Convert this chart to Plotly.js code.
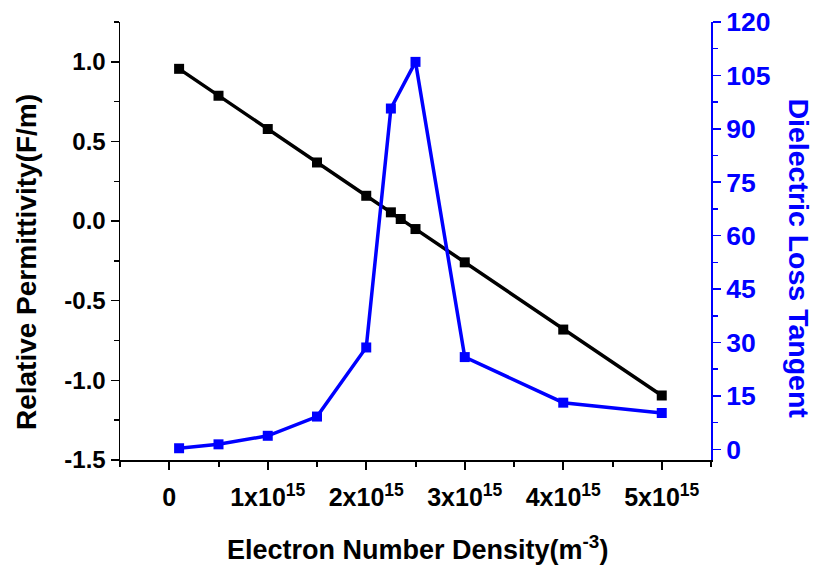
<!DOCTYPE html>
<html>
<head>
<meta charset="utf-8">
<script src="https://cdn.plot.ly/plotly-3.0.1.min.js"></script>
<style>html,body{margin:0;padding:0;background:#fff;}#chart{width:816px;height:567px;}</style>
</head>
<body>
<div id="chart"></div>
<script>
// Data
const densityPerm = [1e14, 5e14, 1e15, 1.5e15, 2e15, 2.25e15, 2.35e15, 2.5e15, 3e15, 4e15, 5e15];
const permittivity = [0.956, 0.787, 0.578, 0.368, 0.159, 0.055, 0.013, -0.05, -0.259, -0.681, -1.095];
const densityLoss = [1e14, 5e14, 1e15, 1.5e15, 2e15, 2.25e15, 2.5e15, 3e15, 4e15, 5e15];
const lossTangent = [0.3, 1.4, 3.8, 9.2, 28.6, 95.7, 108.8, 25.9, 13.1, 10.2];

const xTickVals = [0, 1e15, 2e15, 3e15, 4e15, 5e15];
const xTickText = ['0', '1x10<sup>15</sup>', '2x10<sup>15</sup>', '3x10<sup>15</sup>', '4x10<sup>15</sup>', '5x10<sup>15</sup>'];
const yTickVals = [-1.5, -1.0, -0.5, 0.0, 0.5, 1.0];
const yTickText = ['-1.5', '-1.0', '-0.5', '0.0', '0.5', '1.0'];
const y2TickVals = [0, 15, 30, 45, 60, 75, 90, 105, 120];

const FONT = 'Liberation Sans, Arial, Helvetica, sans-serif';
const BLUE = '#0000FF';

const traces = [
  {
    x: densityPerm, y: permittivity, type: 'scatter', mode: 'lines+markers',
    line: {color: '#000000', width: 3.5},
    marker: {symbol: 'square', size: 10, color: '#000000'},
    xaxis: 'x', yaxis: 'y', showlegend: false
  },
  {
    x: densityLoss, y: lossTangent, type: 'scatter', mode: 'lines+markers',
    line: {color: BLUE, width: 3.5},
    marker: {symbol: 'square', size: 10, color: BLUE},
    xaxis: 'x', yaxis: 'y2', showlegend: false
  }
];

const layout = {
  width: 816, height: 567,
  margin: {l: 120, r: 105, t: 22, b: 107},
  paper_bgcolor: '#fff', plot_bgcolor: '#fff',
  showlegend: false,
  xaxis: {
    range: [-0.5e15, 5.5e15],
    tickmode: 'array', tickvals: xTickVals, ticktext: xTickText,
    ticks: 'outside', ticklen: 8, tickwidth: 2, tickcolor: '#000',
    minor: {tickmode: 'linear', tick0: 0, dtick: 5e14, ticks: 'outside', ticklen: 5, tickwidth: 2, tickcolor: '#000'},
    showline: true, linecolor: '#000', linewidth: 2,
    showgrid: false, zeroline: false,
    tickfont: {family: FONT, size: 25, color: '#000', weight: 'bold'}, ticklabelstandoff: 6
  },
  xaxis2: {
    overlaying: 'x', side: 'top', range: [-0.5e15, 5.5e15],
    tickmode: 'linear', tick0: 0, dtick: 1e15,
    ticks: 'inside', ticklen: 8, tickwidth: 2, tickcolor: '#000',
    minor: {tickmode: 'linear', tick0: 0, dtick: 5e14, ticks: 'inside', ticklen: 4, tickwidth: 2, tickcolor: '#000'},
    showticklabels: false, showline: true, linecolor: '#000', linewidth: 2,
    showgrid: false, zeroline: false
  },
  yaxis: {
    range: [-1.5, 1.25],
    tickmode: 'array', tickvals: yTickVals, ticktext: yTickText,
    ticks: 'outside', ticklen: 8, tickwidth: 1.5, tickcolor: '#000',
    minor: {tickmode: 'linear', tick0: 0, dtick: 0.25, ticks: 'outside', ticklen: 5, tickwidth: 1.5, tickcolor: '#000'},
    showline: true, linecolor: '#000', linewidth: 1.5,
    showgrid: false, zeroline: false,
    tickfont: {family: FONT, size: 24, color: '#000', weight: 'bold'}
  },
  yaxis2: {
    overlaying: 'y', side: 'right', range: [-3, 120],
    tickmode: 'array', tickvals: y2TickVals,
    ticks: 'outside', ticklen: 8, tickwidth: 1.5, tickcolor: BLUE,
    minor: {tickmode: 'linear', tick0: 0, dtick: 7.5, ticks: 'outside', ticklen: 5, tickwidth: 1.5, tickcolor: BLUE},
    showline: true, linecolor: BLUE, linewidth: 2,
    showgrid: false, zeroline: false,
    tickfont: {family: FONT, size: 26.5, color: BLUE, weight: 'bold'}
  },
  annotations: [
    {
      text: 'Relative Permittivity(F/m)', xref: 'paper', yref: 'paper',
      x: -0.159, y: 0.452, xanchor: 'center', yanchor: 'middle', textangle: -90, showarrow: false,
      font: {family: FONT, size: 28, color: '#000', weight: 'bold'}
    },
    {
      text: 'Dielectric Loss Tangent', xref: 'paper', yref: 'paper',
      x: 1.149, y: 0.46, xanchor: 'center', yanchor: 'middle', textangle: 90, showarrow: false,
      font: {family: FONT, size: 28.5, color: BLUE, weight: 'bold'}
    },
    {
      text: 'Electron Number Density(m<sup>-3</sup>)', xref: 'paper', yref: 'paper',
      x: 0.504, y: -0.2, xanchor: 'center', yanchor: 'middle', showarrow: false,
      font: {family: FONT, size: 27, color: '#000', weight: 'bold'}
    }
  ]
};

Plotly.newPlot('chart', traces, layout, {displayModeBar: false, staticPlot: true});
</script>
</body>
</html>
